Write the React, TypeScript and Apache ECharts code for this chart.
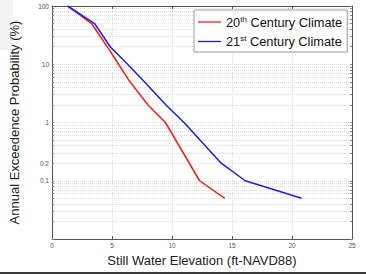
import React, { useEffect, useRef } from 'react';
import * as echarts from 'echarts';

const seriesNames = ['20th Century Climate', '21st Century Climate'];
const redElev = [1.3, 3.3, 4.6, 5.55, 6.5, 8.0, 9.45, 12.3, 14.4];
const redAep = [100, 50, 20, 10, 5, 2, 1, 0.1, 0.05];
const blueElev = [1.3, 3.55, 4.85, 6.3, 7.7, 9.5, 11.0, 14.1, 16.1, 20.8];
const blueAep = [100, 50, 20, 10, 5, 2, 1, 0.2, 0.1, 0.05];
const yTickValues = [100, 10, 1, 0.2, 0.1];
const yTickLabels = ['100', '10', '1', '0.2', '0.1'];
const yMin = 0.01;
const yMax = 100;
const xMin = 0;
const xMax = 25;
const xInterval = 5;

const FONT = 'Liberation Sans, Arial, sans-serif';
const lg = (v: number) => Math.log10(v);

function gridValues(): number[] {
  const out: number[] = [];
  for (let n = Math.round(lg(yMin)); n < Math.round(lg(yMax)); n++) {
    for (let k = 1; k <= 9; k++) out.push(lg(k * Math.pow(10, n)));
  }
  out.push(lg(yMax));
  return out;
}

export default function App() {
  const ref = useRef<HTMLDivElement>(null);
  useEffect(() => {
    if (!ref.current) return;
    const chart = echarts.init(ref.current, null, { renderer: 'svg' });
    const gv = gridValues();
    const labelFmt = (v: number) => {
      let best = 0;
      let bd = Infinity;
      yTickValues.forEach((t, i) => {
        const d = Math.abs(lg(t) - v);
        if (d < bd) { bd = d; best = i; }
      });
      return yTickLabels[best];
    };
    const frame = { show: true, onZero: false, lineStyle: { color: '#555', width: 1 } };
    const split = { show: true, lineStyle: { color: '#dedede', type: [1, 1] as any, width: 1 } };
    chart.setOption({
      animation: false,
      backgroundColor: '#fff',
      graphic: [
        { type: 'rect', left: 0, top: 0, shape: { width: 13, height: 50 }, style: { fill: '#f2f2f2' }, silent: true, z: -10 },
        { type: 'rect', left: 0, top: 272, shape: { width: 366, height: 2 }, style: { fill: '#3a3a3a' }, silent: true },
      ],
      grid: { left: 46, right: 14, top: 6, bottom: 35, containLabel: false },
      xAxis: [
        {
          type: 'value', min: xMin, max: xMax, interval: xInterval, position: 'bottom',
          name: 'Still Water Elevation (ft-NAVD88)', nameLocation: 'middle', nameGap: 12,
          nameTextStyle: { fontFamily: FONT, fontSize: 13, color: '#222', verticalAlign: 'top' },
          axisLine: frame,
          axisTick: { show: true, inside: true, length: 3, lineStyle: { color: '#555' } },
          axisLabel: { fontFamily: FONT, fontSize: 6.5, color: '#555', margin: 3 },
          splitLine: split,
        },
        {
          type: 'value', min: xMin, max: xMax, interval: xInterval, position: 'top',
          axisLine: frame,
          axisTick: { show: true, inside: true, length: 3, lineStyle: { color: '#555' } },
          axisLabel: { show: false },
          splitLine: { show: false },
        },
      ],
      yAxis: [
        {
          type: 'value', min: lg(yMin), max: lg(yMax), position: 'left',
          name: 'Annual Exceedence Probability (%)', nameLocation: 'middle', nameGap: 31,
          nameTextStyle: { fontFamily: FONT, fontSize: 13, color: '#222' },
          axisLine: frame,
          axisTick: { show: true, inside: true, length: 2, customValues: gv, lineStyle: { color: '#888' } },
          axisLabel: { fontFamily: FONT, fontSize: 6.5, color: '#555', margin: 3, customValues: yTickValues.map(lg), formatter: labelFmt },
          splitLine: split,
        },
        {
          type: 'value', min: lg(yMin), max: lg(yMax), position: 'right',
          axisLine: frame,
          axisTick: { show: true, inside: true, length: 2, customValues: gv, lineStyle: { color: '#888' } },
          axisLabel: { show: false },
          splitLine: { show: false },
        },
      ],
      legend: {
        orient: 'vertical', left: 194, top: 10,
        backgroundColor: '#fff', borderColor: '#999', borderWidth: 1,
        padding: [5, 5, 4, 4], itemGap: 6, itemWidth: 23, itemHeight: 14,
        icon: 'path://M0,6.5L23,6.5L23,7.8L0,7.8Z',
        data: seriesNames,
        formatter: (name: string) => name.startsWith('20')
          ? '{t|20}{s|th}{t| Century Climate}'
          : '{t|21}{s|st}{t| Century Climate}',
        textStyle: {
          rich: {
            t: { fontFamily: FONT, fontSize: 12.8, color: '#111', lineHeight: 14 },
            s: { fontFamily: FONT, fontSize: 8, color: '#111', verticalAlign: 'top', lineHeight: 14 },
          },
        },
      },
      series: [
        {
          name: seriesNames[0], type: 'line', symbol: 'none', xAxisIndex: 0, yAxisIndex: 0,
          lineStyle: { color: '#ff1a1a', width: 1.5 }, itemStyle: { color: '#ff1a1a' },
          data: redElev.map((x, i) => [x, lg(redAep[i])]),
        },
        {
          name: seriesNames[1], type: 'line', symbol: 'none', xAxisIndex: 0, yAxisIndex: 0,
          lineStyle: { color: '#1a1aff', width: 1.5 }, itemStyle: { color: '#1a1aff' },
          data: blueElev.map((x, i) => [x, lg(blueAep[i])]),
        },
      ],
    });
    return () => chart.dispose();
  }, []);
  return <div ref={ref} style={{ position: 'fixed', left: 0, top: 0, width: 366, height: 274 }} />;
}
